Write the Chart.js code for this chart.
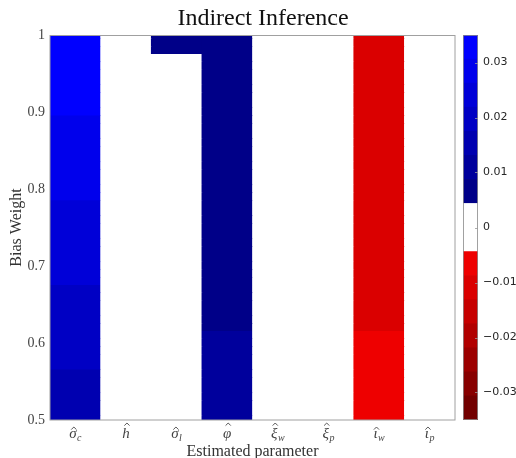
<!DOCTYPE html>
<html>
<head>
<meta charset="utf-8">
<script src="https://cdn.jsdelivr.net/npm/chart.js@4.4.1/dist/chart.umd.min.js"></script>
<style>
  body { margin: 0; background: #fff; }
  #wrap { position: relative; width: 516px; height: 458px; }
  #wrap canvas { position: absolute; top: 0; }
  #heatmap { left: 0; }
  #colourbar { left: 455px; }
</style>
</head>
<body>
<div id="wrap">
  <canvas id="heatmap" width="516" height="458"></canvas>
  <canvas id="colourbar" width="61" height="458"></canvas>
</div>
<script>
// bias weights (rows of the grid)
const biasWeights = [
  0.50, 0.51, 0.52, 0.53, 0.54, 0.55, 0.56, 0.57, 0.58, 0.59,
  0.60, 0.61, 0.62, 0.63, 0.64, 0.65, 0.66, 0.67, 0.68, 0.69,
  0.70, 0.71, 0.72, 0.73, 0.74, 0.75, 0.76, 0.77, 0.78, 0.79,
  0.80, 0.81, 0.82, 0.83, 0.84, 0.85, 0.86, 0.87, 0.88, 0.89,
  0.90, 0.91, 0.92, 0.93, 0.94, 0.95, 0.96, 0.97, 0.98, 0.99,
  1.00
];

// estimated parameters (columns) - symbol + subscript
const paramSymbols = ['σ', 'h', 'σ', 'φ', 'ξ', 'ξ', 'ι', 'ι'];
const paramSubscripts = ['c', '', 'l', '', 'w', 'p', 'w', 'p'];

// bias of each estimate, one value per bias weight
const biasSigmaC = [
  0.0149, 0.0152, 0.0157, 0.0160, 0.0165, 0.0169, 0.0173, 0.0177, 0.0180, 0.0185,
  0.0189, 0.0192, 0.0197, 0.0201, 0.0204, 0.0209, 0.0213, 0.0216, 0.0221, 0.0225,
  0.0228, 0.0233, 0.0237, 0.0240, 0.0245, 0.0249, 0.0252, 0.0257, 0.0261, 0.0264,
  0.0269, 0.0273, 0.0276, 0.0281, 0.0285, 0.0288, 0.0293, 0.0297, 0.0300, 0.0304,
  0.0309, 0.0312, 0.0317, 0.0321, 0.0324, 0.0329, 0.0333, 0.0336, 0.0341, 0.0345,
  0.0348
];
const biasH = [
  0, 0, 0, 0, 0, 0, 0, 0, 0, 0,
  0, 0, 0, 0, 0, 0, 0, 0, 0, 0,
  0, 0, 0, 0, 0, 0, 0, 0, 0, 0,
  0, 0, 0, 0, 0, 0, 0, 0, 0, 0,
  0, 0, 0, 0, 0, 0, 0, 0, 0, 0,
  0
];
const biasSigmaL = [
  0.0008, 0.0009, 0.0010, 0.0010, 0.0011, 0.0012, 0.0012, 0.0013, 0.0014, 0.0014,
  0.0015, 0.0016, 0.0016, 0.0017, 0.0018, 0.0018, 0.0019, 0.0020, 0.0020, 0.0021,
  0.0022, 0.0022, 0.0023, 0.0024, 0.0024, 0.0025, 0.0026, 0.0027, 0.0027, 0.0028,
  0.0029, 0.0030, 0.0030, 0.0031, 0.0032, 0.0033, 0.0034, 0.0034, 0.0035, 0.0036,
  0.0037, 0.0038, 0.0038, 0.0039, 0.0040, 0.0041, 0.0042, 0.0043, 0.0045, 0.0047,
  0.0049
];
const biasPhi = [
  0.0098, 0.0097, 0.0096, 0.0095, 0.0094, 0.0093, 0.0092, 0.0091, 0.0090, 0.0089,
  0.0088, 0.0088, 0.0087, 0.0086, 0.0085, 0.0085, 0.0084, 0.0083, 0.0083, 0.0082,
  0.0081, 0.0081, 0.0080, 0.0079, 0.0079, 0.0078, 0.0077, 0.0077, 0.0076, 0.0075,
  0.0075, 0.0074, 0.0073, 0.0073, 0.0072, 0.0071, 0.0071, 0.0070, 0.0069, 0.0069,
  0.0068, 0.0067, 0.0067, 0.0066, 0.0065, 0.0065, 0.0064, 0.0063, 0.0063, 0.0062,
  0.0062
];
const biasXiW = [
  0, 0, 0, 0, 0, 0, 0, 0, 0, 0,
  0, 0, 0, 0, 0, 0, 0, 0, 0, 0,
  0, 0, 0, 0, 0, 0, 0, 0, 0, 0,
  0, 0, 0, 0, 0, 0, 0, 0, 0, 0,
  0, 0, 0, 0, 0, 0, 0, 0, 0, 0,
  0
];
const biasXiP = [
  0, 0, 0, 0, 0, 0, 0, 0, 0, 0,
  0, 0, 0, 0, 0, 0, 0, 0, 0, 0,
  0, 0, 0, 0, 0, 0, 0, 0, 0, 0,
  0, 0, 0, 0, 0, 0, 0, 0, 0, 0,
  0, 0, 0, 0, 0, 0, 0, 0, 0, 0,
  0
];
const biasIotaW = [
  -0.0079, -0.0080, -0.0081, -0.0081, -0.0082, -0.0083, -0.0084, -0.0084, -0.0085, -0.0086,
  -0.0086, -0.0087, -0.0088, -0.0089, -0.0089, -0.0090, -0.0091, -0.0091, -0.0092, -0.0093,
  -0.0093, -0.0094, -0.0095, -0.0095, -0.0096, -0.0097, -0.0097, -0.0098, -0.0099, -0.0099,
  -0.0100, -0.0101, -0.0101, -0.0102, -0.0103, -0.0103, -0.0104, -0.0105, -0.0105, -0.0106,
  -0.0107, -0.0107, -0.0108, -0.0109, -0.0109, -0.0110, -0.0110, -0.0111, -0.0111, -0.0112,
  -0.0112
];
const biasIotaP = [
  0, 0, 0, 0, 0, 0, 0, 0, 0, 0,
  0, 0, 0, 0, 0, 0, 0, 0, 0, 0,
  0, 0, 0, 0, 0, 0, 0, 0, 0, 0,
  0, 0, 0, 0, 0, 0, 0, 0, 0, 0,
  0, 0, 0, 0, 0, 0, 0, 0, 0, 0,
  0
];

const weightTicks = [0.5, 0.6, 0.7, 0.8, 0.9, 1];
const colourLimits = [-0.035, 0.035];
const colourbarTicks = [-0.03, -0.02, -0.01, 0, 0.01, 0.02, 0.03];

// 16-step diverging map: dark red -> red -> white -> navy -> blue
const palette = [
  '#720000', '#870000', '#9c0000', '#b10000', '#c60000', '#da0000', '#ee0000',
  '#ffffff', '#ffffff',
  '#000088', '#00009c', '#0000b0', '#0000c4', '#0000d8', '#0000ec', '#0000ff'
];

const columns = [biasSigmaC, biasH, biasSigmaL, biasPhi, biasXiW, biasXiP, biasIotaW, biasIotaP];

function colourFor(v) {
  const [lo, hi] = colourLimits;
  let i = Math.floor((v - lo) / (hi - lo) * palette.length);
  i = Math.max(0, Math.min(palette.length - 1, i));
  return palette[i];
}

const serif = '"Liberation Serif", "DejaVu Serif", serif';
const halfRow = (biasWeights[1] - biasWeights[0]) / 2;

// one floating-bar dataset per row of the grid
const rowSets = biasWeights.map((w, r) => ({
  data: columns.map(() => [w - halfRow, w + halfRow]),
  backgroundColor: columns.map(col => colourFor(col[r])),
  borderWidth: 0,
  barPercentage: 1,
  categoryPercentage: 1,
  grouped: false
}));

const frameAndText = {
  id: 'frameAndText',
  afterDraw(chart) {
    const { ctx, chartArea: a, scales } = chart;
    ctx.save();
    // axes box
    ctx.strokeStyle = '#a0a0a0';
    ctx.lineWidth = 1;
    ctx.strokeRect(a.left, a.top + 0.5, a.right - a.left, a.bottom - a.top - 0.5);

    // title
    ctx.fillStyle = '#111';
    ctx.font = '24px ' + serif;
    ctx.textAlign = 'center';
    ctx.textBaseline = 'alphabetic';
    ctx.fillText('Indirect Inference', 263, 25);

    // axis titles
    ctx.fillStyle = '#333';
    ctx.font = '16px ' + serif;
    ctx.fillText('Estimated parameter', (a.left + a.right) / 2, 456);
    ctx.save();
    ctx.translate(21, (a.top + a.bottom) / 2);
    ctx.rotate(-Math.PI / 2);
    ctx.fillText('Bias Weight', 0, 0);
    ctx.restore();

    // parameter labels with hats and subscripts
    const base = 437.5;
    paramSymbols.forEach((sym, i) => {
      const cx = scales.x.getPixelForValue(i);
      const sub = paramSubscripts[i];
      ctx.font = 'italic 15px ' + serif;
      const wSym = ctx.measureText(sym).width;
      ctx.font = 'italic 10px ' + serif;
      const wSub = sub ? ctx.measureText(sub).width + 0.5 : 0;
      const x0 = cx - (wSym + wSub) / 2;
      ctx.fillStyle = '#444';
      ctx.textAlign = 'left';
      ctx.font = 'italic 15px ' + serif;
      ctx.fillText(sym, x0, base);
      if (sub) {
        ctx.font = 'italic 10px ' + serif;
        ctx.fillText(sub, x0 + wSym + 0.5, base + 3);
      }
      // hat
      const tall = sym === 'h' || sym === 'ξ' || sym === 'φ';
      const hy = tall ? 424 : 428;
      const hx = x0 + wSym / 2 + 1;
      ctx.strokeStyle = '#444';
      ctx.lineWidth = 0.9;
      ctx.beginPath();
      ctx.moveTo(hx - 2.6, hy + 1.6);
      ctx.lineTo(hx, hy - 1);
      ctx.lineTo(hx + 2.6, hy + 1.6);
      ctx.stroke();
    });
    ctx.restore();
  }
};

new Chart(document.getElementById('heatmap'), {
  type: 'bar',
  data: { labels: paramSymbols.map((s, i) => s + paramSubscripts[i]), datasets: rowSets },
  options: {
    responsive: false,
    animation: false,
    events: [],
    layout: { padding: { left: 0, right: 61, top: 35, bottom: 0 } },
    plugins: { legend: { display: false }, tooltip: { enabled: false }, title: { display: false } },
    scales: {
      x: {
        type: 'category',
        offset: true,
        grid: { display: false },
        border: { display: false },
        ticks: { display: false },
        afterFit: s => { s.height = 38; }
      },
      y: {
        min: 0.5,
        max: 1,
        grid: { display: false, drawTicks: false },
        border: { display: false },
        afterBuildTicks: s => { s.ticks = weightTicks.map(v => ({ value: v })); },
        ticks: {
          padding: 5,
          color: '#444',
          font: { family: serif, size: 14 },
          callback: v => (v === 1 ? '1' : v.toFixed(1))
        },
        afterFit: s => { s.width = 50; }
      }
    }
  },
  plugins: [frameAndText]
});

// colour bar
const bandSize = (colourLimits[1] - colourLimits[0]) / palette.length;
const bandSets = palette.map((c, i) => ({
  data: [[colourLimits[0] + i * bandSize, colourLimits[0] + (i + 1) * bandSize]],
  backgroundColor: c,
  borderWidth: 0,
  barPercentage: 1,
  categoryPercentage: 1,
  grouped: false
}));

const barFrame = {
  id: 'barFrame',
  afterDraw(chart) {
    const { ctx, chartArea: a, scales } = chart;
    ctx.save();
    ctx.strokeStyle = '#8a8a8a';
    ctx.lineWidth = 0.8;
    ctx.strokeRect(a.left + 0.5, a.top + 0.5, a.right - a.left - 1, a.bottom - a.top - 1);
    ctx.strokeStyle = '#999';
    colourbarTicks.forEach(v => {
      const y = Math.round(scales.y.getPixelForValue(v)) + 0.5;
      ctx.beginPath();
      ctx.moveTo(a.right - 3, y);
      ctx.lineTo(a.right, y);
      ctx.stroke();
    });
    ctx.restore();
  }
};

new Chart(document.getElementById('colourbar'), {
  type: 'bar',
  data: { labels: [''], datasets: bandSets },
  options: {
    responsive: false,
    animation: false,
    events: [],
    layout: { padding: { left: 8, right: 0, top: 35, bottom: 38 } },
    plugins: { legend: { display: false }, tooltip: { enabled: false } },
    scales: {
      x: { display: false },
      y: {
        position: 'right',
        min: colourLimits[0],
        max: colourLimits[1],
        grid: { display: false, drawTicks: false },
        border: { display: false },
        afterBuildTicks: s => { s.ticks = colourbarTicks.map(v => ({ value: v })); },
        ticks: {
          padding: 5,
          color: '#262626',
          font: { family: '"DejaVu Sans", sans-serif', size: 11 },
          callback: v => (v === 0 ? '0' : (v < 0 ? '−' : '') + Math.abs(v).toFixed(2))
        },
        afterFit: s => { s.width = 38; }
      }
    }
  },
  plugins: [barFrame]
});
</script>
</body>
</html>
